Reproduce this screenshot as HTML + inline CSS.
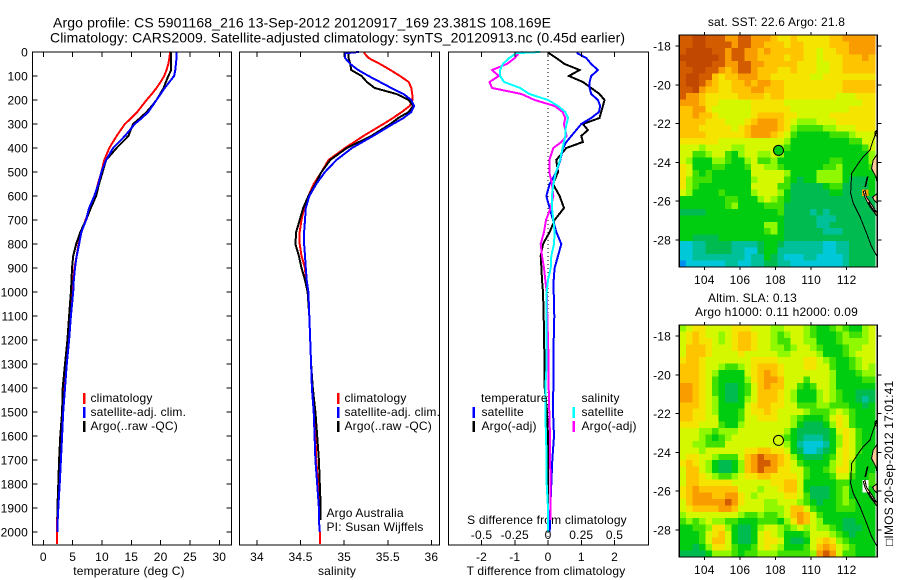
<!DOCTYPE html>
<html lang="en">
<head>
<meta charset="utf-8">
<title>Argo profile</title>
<style>
html,body{margin:0;padding:0;background:#fff;width:900px;height:580px;overflow:hidden}
svg{display:block}
text{font-family:"Liberation Sans",sans-serif;font-size:12px;fill:#000;letter-spacing:.18px}
.title{font-size:14px;letter-spacing:0}
</style>
</head>
<body>
<svg id="chart" xmlns="http://www.w3.org/2000/svg" width="900" height="580" viewBox="0 0 900 580">
<rect x="0" y="0" width="900" height="580" fill="#fff"/>
<text class="title" x="53" y="27.500" textLength="498">Argo profile: CS 5901168_216 13-Sep-2012 20120917_169 23.381S 108.169E</text>
<text class="title" x="50" y="42.500" textLength="575">Climatology: CARS2009. Satellite-adjusted climatology: synTS_20120913.nc (0.45d earlier)</text>
<text x="129" y="575" text-anchor="middle">temperature (deg C)</text>
<text x="337" y="575" text-anchor="middle">salinity</text>
<text x="546" y="575" text-anchor="middle">T difference from climatology</text>
<text x="547" y="524" text-anchor="middle">S difference from climatology</text>
<text x="326.500" y="517">Argo Australia</text>
<text x="326.500" y="531">PI: Susan Wijffels</text>
<text x="776.500" y="26" text-anchor="middle">sat. SST: 22.6 Argo: 21.8</text>
<text x="752.500" y="302" text-anchor="middle">Altim. SLA: 0.13</text>
<text x="776.500" y="316" text-anchor="middle">Argo h1000: 0.11 h2000: 0.09</text>
<text transform="translate(893,546) rotate(-90)">□IMOS 20-Sep-2012 17:01:41</text>
</svg>
<script>
/* ---------- profile data ---------- */
const profileDepths = [0,5,25,50,75,100,125,150,175,200,225,250,275,300,350,400,450,500,550,600,650,700,750,800,850,900,950,1000,1100,1200,1300,1400,1500,1600,1700,1800,1900,1950,2000,2050];
const tempClim = [21.6,21.6,21.5,21.3,21,20.6,20,19.3,18.5,17.6,16.8,16,15,13.9,12.5,11.25,10.4,9.9,9.3,8.8,8,7.2,6.5,6,5.7,5.3,5.1,5,4.5,4.2,3.9,3.6,3.3,3.05,2.85,2.65,2.45,2.35,2.35,2.35];
const tempSat = [22.7,22.7,22.7,22.6,22.5,22.3,21.5,20.7,20,19.3,18.6,17.9,16.8,15.6,13.9,11.9,10.7,9.9,9.4,8.7,7.8,7.3,6.5,6.1,5.7,5.4,5.2,5.1,4.7,4.4,4,3.7,3.4,3.2,3,2.8,2.55,2.45,2.4,null];
const tempArgo = [21.8,21.8,21.8,21.8,21.8,21.3,20.9,20.5,19.9,19.3,18.5,17.6,16.5,15.3,14.5,12.5,10.7,10.1,9.5,9,8.1,7.3,6.3,5.6,5.1,4.9,4.8,4.7,4.4,4.1,3.7,3.3,3.2,2.9,2.7,2.55,2.4,2.4,null,null];
const salClim = [35.23,35.23,35.28,35.41,35.53,35.64,35.74,35.77,35.78,35.785,35.75,35.66,35.56,35.45,35.22,35.01,34.82,34.74,34.65,34.59,34.54,34.51,34.49,34.49,34.51,34.55,34.56,34.59,34.6,34.61,34.62,34.63,34.65,34.67,34.68,34.7,34.71,34.71,34.72,34.72];
const salSat = [35.17,35.01,35.01,35.07,35.16,35.28,35.41,35.54,35.68,35.77,35.8,35.77,35.68,35.56,35.33,35.09,34.91,34.78,34.68,34.6,34.56,34.55,34.54,34.54,34.55,34.56,34.57,34.59,34.6,34.61,34.62,34.63,34.65,34.66,34.67,34.69,34.71,34.71,34.72,null];
const salArgo = [35.05,35.05,35.05,35.07,35.08,35.2,35.26,35.35,35.6,35.74,35.79,35.74,35.62,35.53,35.31,35.03,34.84,34.74,34.67,34.59,34.53,34.49,34.45,34.44,34.48,34.51,34.55,34.58,34.6,34.61,34.62,34.64,34.67,34.69,34.71,34.72,34.73,34.73,null,null];

const diffDepths = [0,5,25,50,75,100,125,150,175,200,225,250,275,300,325,350,375,400,450,500,550,600,650,700,750,800,850,900,950,1000,1100,1200,1300,1400,1500,1600,1700,1800,1900,1950,2000];
const diffTSat = [.88,.88,1.15,1.3,1.5,1.3,1.25,1.25,1.3,1.5,1.57,1.53,1.3,1,.85,.7,.55,.45,.37,.25,.05,-.05,.05,.15,.25,.4,.3,.2,.17,.17,.19,.17,.17,.16,.15,.18,.13,.1,.07,.06,.05];
const diffTArgo = [.03,.03,.25,.5,.95,.63,1.05,1.3,1.55,1.7,1.65,1.6,1.55,1.05,1.2,1,1.05,.55,.25,.3,.15,.35,.48,.2,.05,-.15,-.22,-.2,-.18,-.15,-.13,-.12,-.1,-.1,-.03,0,0,0,0,0,null];
const diffSSat = [-.06,-.24,-.29,-.34,-.36,-.36,-.33,-.21,-.14,0,.075,.13,.15,.14,.13,.13,.12,.11,.09,.06,.04,.03,.03,.04,.05,.045,.025,.02,0,-.01,-.01,-.01,-.01,-.02,-.02,-.015,-.01,-.01,0,0,0];
const diffSArgo = [-.19,-.22,-.25,-.31,-.42,-.37,-.44,-.42,-.2,-.1,.05,.11,.13,.12,.13,.14,.1,.04,.01,.01,.03,.04,.02,-.015,-.03,-.055,-.045,-.03,-.02,-.01,-.005,0,.005,.005,.01,.015,.015,.02,.02,.02,null];

const depthTicks = [0,100,200,300,400,500,600,700,800,900,1000,1100,1200,1300,1400,1500,1600,1700,1800,1900,2000];
const tempTicks = [0,5,10,15,20,25,30];
const salTicks = [34,34.5,35,35.5,36];
const tDiffTicks = [-2,-1,0,1,2];
const sDiffTicks = [-0.5,-0.25,0,0.25,0.5];
const sDiffTickLabels = ['-0.5','-0.25','0','0.25','0.5'];

/* ---------- map data (colour-scale level per cell; rows north to south) ---------- */
const lonTicks = [104,106,108,110,112];
const latTicks = [-18,-20,-22,-24,-26,-28];
const argoLon = 108.169;
const argoLat = -23.381;
const sstArgoLevel = 4;
const slaArgoLevel = 6.5;
const levelColors = ['#0090f0','#00c8d8','#00c09a','#00bc50','#00cc10','#40e000','#90f800','#d4f800','#f4e400','#ffc400','#f89c00','#d45c00','#c04800'];
const sstGrid = [
[11,11,12,12,11,11,11,10,10,11,11,10,10,10,9,8,8,9,8,8,8,8,8,9,9,10,10,10,10,10],
[11,11,12,12,11,11,11,11,10,11,11,10,10,9,9,9,8,9,9,8,8,8,8,9,9,9,10,10,10,10],
[11,12,12,12,12,11,11,10,11,11,10,10,9,10,9,9,9,9,9,8,8,7,8,8,9,9,10,10,10,10],
[12,12,12,12,12,12,11,10,11,11,10,10,9,9,9,9,8,9,9,8,8,7,8,8,8,9,9,9,10,9],
[11,12,12,12,12,11,11,10,10,11,11,10,10,9,9,9,9,9,8,8,8,7,7,8,8,9,9,9,9,9],
[11,11,12,12,11,11,10,9,10,11,11,10,9,9,9,8,8,9,8,8,8,7,7,8,8,9,9,9,9,9],
[11,12,12,11,11,9,8,9,9,10,10,10,9,9,8,8,8,8,8,8,7,7,8,8,8,8,8,8,8,8],
[11,12,12,11,10,9,8,8,9,9,10,9,10,10,9,9,8,8,8,8,8,8,8,8,8,9,9,9,9,9],
[11,11,12,10,9,9,8,8,9,9,9,10,10,9,9,9,8,8,8,8,8,8,8,8,8,9,9,9,9,9],
[11,10,10,9,8,8,8,8,8,9,9,9,9,8,9,9,8,8,8,8,8,8,8,8,7,7,7,8,8,8],
[10,10,10,9,8,8,7,7,7,7,7,8,8,8,8,8,7,7,7,7,7,7,7,7,7,7,7,7,8,8],
[9,9,10,10,8,7,7,7,7,7,7,8,8,8,8,8,8,7,7,7,7,7,7,7,7,7,8,8,8,8],
[9,9,10,9,9,8,7,7,7,7,7,8,9,9,9,9,8,8,7,7,7,7,7,8,8,8,8,8,8,8],
[9,9,9,9,8,8,8,7,7,7,8,9,10,10,10,9,8,7,6,6,6,7,7,7,8,8,8,8,8,8],
[9,9,9,8,8,8,8,8,7,8,9,10,10,10,10,9,8,6,5,5,5,5,6,6,7,7,7,8,8,8],
[9,9,9,9,8,8,8,8,8,8,9,10,10,10,9,8,7,5,4,4,4,4,4,5,5,5,6,7,7,7],
[8,8,8,8,8,8,7,7,7,7,7,7,7,7,7,7,6,4,4,4,4,4,4,4,4,4,5,5,7,7],
[7,7,7,6,7,7,7,7,6,6,7,7,7,7,7,6,5,4,4,4,4,4,4,4,4,4,4,4,5,7],
[7,7,5,5,6,7,7,5,4,6,7,7,6,6,7,6,4,4,4,4,4,4,4,4,4,4,4,4,4,6],
[7,6,4,4,4,6,6,5,4,4,6,7,5,5,6,4,4,4,4,4,4,4,4,5,5,4,4,4,4,6],
[8,7,4,4,4,5,5,4,4,4,5,7,7,6,6,5,4,4,4,4,4,4,5,5,6,4,4,4,4,5],
[8,7,5,4,5,4,4,4,4,4,4,7,7,7,7,7,6,4,4,4,4,6,6,6,6,4,4,4,4,4],
[8,6,5,5,5,4,4,4,4,4,4,6,7,7,7,7,5,4,3,4,4,6,6,6,6,4,3,3,3,4],
[8,6,5,4,4,4,4,4,4,4,4,7,7,7,7,5,5,3,3,3,3,3,4,5,5,3,3,3,3,4],
[7,6,4,4,4,4,5,4,4,4,4,6,7,7,7,6,4,3,3,3,3,3,3,4,4,3,3,3,10,4],
[4,4,4,4,4,4,4,5,5,4,4,4,6,7,6,5,4,3,3,3,3,3,3,3,3,3,3,3,3,3],
[4,4,4,4,4,4,4,5,6,4,4,4,4,5,5,5,3,3,3,3,3,3,3,3,3,3,3,3,3,3],
[3,3,3,3,4,4,4,4,4,4,4,4,4,4,4,5,3,3,3,3,2,3,2,3,3,3,3,3,3,3],
[4,4,4,4,4,4,4,4,4,4,4,4,4,4,4,4,3,3,3,3,3,2,2,2,3,3,3,3,3,3],
[4,4,4,4,4,4,4,4,4,4,4,4,4,6,6,4,3,3,3,3,3,2,2,3,3,3,3,3,3,3],
[4,4,4,4,4,4,4,4,4,4,4,4,4,5,6,4,3,3,3,3,3,3,2,2,2,3,3,3,3,3],
[4,4,3,3,3,3,4,4,4,4,4,4,4,4,4,4,3,3,3,3,3,3,3,3,3,3,3,3,3,3],
[1,1,2,2,3,3,3,3,2,2,2,2,3,4,4,3,2,2,2,2,2,2,1,1,2,2,3,3,3,3],
[1,1,2,2,3,3,3,3,2,2,1,1,3,4,4,2,2,2,2,2,2,2,1,1,2,2,3,3,3,3],
[1,1,2,2,2,2,2,2,2,2,1,2,2,4,3,2,1,1,1,2,2,1,1,1,1,2,3,3,3,3],
[0,1,1,1,1,1,1,2,2,1,1,2,2,3,3,2,2,1,1,1,1,1,1,1,1,2,3,3,3,3]
];
const slaGrid = [
[6,7,8,8,7,7,7,7,8,8,8,7,7,7,6,6,7,7,7,6,5,4,4,5,6,5,4,4,6,7],
[7,8,9,8,7,7,6,7,8,9,9,8,7,7,6,5,6,7,7,6,5,4,4,4,5,6,5,5,6,7],
[7,8,9,8,8,7,6,7,8,9,9,8,7,7,6,5,5,7,7,6,6,4,4,4,5,6,6,6,6,7],
[7,9,9,9,8,7,7,7,8,9,9,8,7,7,6,6,5,6,7,7,6,5,4,4,4,5,6,6,7,7],
[7,9,9,9,8,7,7,7,7,8,7,7,7,7,7,6,6,7,7,7,7,6,4,4,4,5,6,7,7,7],
[8,9,9,8,7,7,7,7,7,7,7,8,8,8,8,7,7,7,7,8,8,7,6,5,4,4,5,6,7,7],
[9,9,9,8,7,7,6,5,5,6,7,8,9,9,9,8,7,7,7,8,8,7,7,5,4,4,5,6,7,6],
[9,9,9,8,7,6,4,4,4,4,7,8,9,10,9,8,7,7,7,7,7,7,7,6,4,4,4,5,6,6],
[9,9,9,8,7,5,4,4,4,4,6,8,9,10,10,9,7,7,7,5,7,7,7,6,4,4,4,4,5,5],
[10,10,9,8,7,5,4,3,3,4,5,7,9,10,9,9,7,7,5,4,5,7,7,6,4,4,4,4,4,4],
[10,10,9,8,7,5,4,3,3,4,5,7,9,9,9,8,7,6,4,4,4,6,7,6,5,4,4,3,3,3],
[10,10,9,8,7,6,4,3,3,4,6,7,9,9,9,8,7,6,4,4,4,6,7,6,5,4,4,3,2,3],
[9,9,9,8,7,6,4,4,4,4,7,8,9,9,8,8,7,7,5,5,5,6,6,5,5,5,4,4,3,4],
[9,9,8,8,7,6,4,4,4,5,7,8,8,9,8,7,7,7,7,6,5,5,5,6,7,6,5,4,4,4],
[9,9,8,8,7,7,4,4,4,5,7,7,8,8,8,7,7,6,5,4,4,4,5,7,8,7,5,4,4,4],
[8,8,8,7,7,7,5,4,4,6,7,7,7,7,7,7,7,6,4,3,3,3,4,6,8,7,5,4,4,4],
[7,7,7,6,6,5,6,6,6,7,7,7,7,7,7,7,6,4,3,3,3,3,3,4,7,8,7,5,4,4],
[7,7,7,6,5,4,5,6,7,7,7,7,7,7,7,6,5,4,3,2,2,2,3,4,6,8,7,5,4,4],
[7,7,6,6,5,5,5,7,7,7,7,7,7,7,7,7,6,4,2,1,1,1,2,4,6,8,7,5,4,4],
[7,7,7,6,7,7,7,7,7,7,8,8,9,9,8,8,7,4,3,1,1,2,3,4,7,8,7,5,4,4],
[7,8,8,7,7,6,5,5,5,7,9,10,11,10,10,9,8,6,4,3,3,3,4,5,7,8,7,4,4,4],
[8,9,8,7,6,4,3,3,4,6,9,10,11,11,10,9,8,7,5,4,4,4,4,6,7,8,6,4,4,4],
[7,9,9,7,6,4,3,3,4,6,9,10,11,10,10,8,8,7,7,5,4,4,5,6,8,8,6,4,4,4],
[7,9,9,8,7,6,5,5,6,7,8,8,9,9,8,8,8,8,7,5,4,4,4,5,7,7,5,4,4,5],
[7,9,9,8,8,8,8,8,7,7,7,7,7,7,8,8,9,9,7,4,4,4,4,4,5,5,4,4,null,5],
[8,9,10,9,9,9,9,9,9,7,7,7,6,7,7,8,9,9,7,4,3,3,3,4,5,6,4,4,null,4],
[8,9,10,10,10,9,9,10,10,8,7,6,7,7,7,7,8,8,7,5,3,3,3,4,5,6,4,4,4,4],
[7,9,10,10,10,10,10,11,10,8,7,7,7,6,6,7,7,7,6,5,4,3,4,4,5,6,5,4,4,4],
[7,8,9,9,9,9,10,10,9,7,7,7,7,6,6,6,7,9,9,7,5,4,4,4,5,5,5,4,4,4],
[6,7,7,7,7,7,7,7,7,6,5,5,6,5,5,6,7,9,10,9,7,5,4,4,4,4,4,4,4,4],
[5,6,5,6,7,6,6,5,5,4,4,4,5,5,5,4,6,8,10,9,7,6,4,4,4,3,3,4,4,4],
[4,4,5,5,6,8,8,6,4,3,3,4,6,7,7,6,5,6,7,6,7,6,6,5,4,3,3,3,4,4],
[4,4,4,5,7,8,9,7,4,3,3,4,7,8,7,6,4,4,4,5,7,7,7,6,5,4,3,4,4,4],
[4,4,4,5,7,9,9,7,4,3,3,4,7,8,8,7,4,3,3,4,7,8,9,8,6,5,4,4,4,4],
[4,4,3,4,6,8,8,7,5,4,4,5,7,8,7,6,4,4,4,5,7,9,10,9,7,6,5,4,4,4],
[3,3,3,3,4,6,6,6,5,4,5,5,6,6,6,5,5,5,5,5,6,10,11,10,7,5,5,4,4,4]
];
const coastLon = [113.72,113.49,113.31,112.93,112.65,112.28,112.22,112.37,112.75,113.12,113.40,113.72];
const coastLat = [-22.33,-22.85,-23.36,-23.70,-24.05,-24.56,-25.59,-26.11,-26.80,-27.66,-28.34,-28.86];
const landShapes = [
  [[113.59,-22.42],[113.72,-22.33],[113.72,-22.67],[113.59,-22.59]],
  [[113.72,-23.57],[113.49,-23.88],[113.40,-24.31],[113.64,-24.74],[113.72,-25.08]],
  [[112.93,-25.51],[113.05,-25.85],[113.25,-26.20],[113.72,-26.80],[113.72,-26.63],[113.35,-26.10],[113.12,-25.80],[113.03,-25.45]],
  [[113.45,-25.80],[113.72,-25.60],[113.72,-26.11],[113.55,-25.96]],
  [[113.16,-24.74],[113.03,-25.25],[113.06,-25.25],[113.19,-24.74]]
];
const reefLon = [113.22,113.35,113.60];
const reefLat = [-26.05,-26.30,-26.60];

/* ---------- scales ---------- */
const svg = document.getElementById('chart');
const NS = 'http://www.w3.org/2000/svg';
const panelTop = 52, panelBottom = 545;
function yDepth(d){ return panelTop + d * 0.24; }
function xTemp(t){ return 43.3 + t * 5.867; }
function xSal(s){ return 257 + (s - 34) * 87.2; }
function xTDiff(t){ return 548 + t * 33.25; }
function xSDiff(s){ return 548 + s * 133; }

function mk(tag, attrs, parent){
  const el = document.createElementNS(NS, tag);
  for (const k in attrs) el.setAttribute(k, attrs[k]);
  (parent || svg).appendChild(el);
  return el;
}
function label(str, x, y, anchor, parent){
  const el = mk('text', {x: x, y: y, 'text-anchor': anchor || 'middle'}, parent);
  el.textContent = str;
  return el;
}
function profileLine(depths, values, xFn, color, name){
  const pts = [];
  depths.forEach(function(d, i){
    if (values[i] !== null) pts.push(xFn(values[i]).toFixed(1) + ',' + yDepth(d).toFixed(1));
  });
  const el = mk('polyline', {points: pts.join(' '), fill: 'none', stroke: color, 'stroke-width': 2, 'shape-rendering': 'crispEdges'});
  
  
}
function panelBox(x0, x1, y0, y1, name){
  const el = mk('rect', {x: x0, y: y0, width: x1 - x0, height: y1 - y0, fill: 'none', stroke: '#000', 'stroke-width': 1.4, 'shape-rendering': 'crispEdges'});
  
  
}
function tickLine(x1, y1, x2, y2, name){
  const el = mk('line', {x1: x1, y1: y1, x2: x2, y2: y2, stroke: '#000', 'stroke-width': 1, 'shape-rendering': 'crispEdges'});
  
  
}
function legendMark(x, y, color, name){
  const el = mk('rect', {x: x, y: y, width: 2.5, height: 11, fill: color});
  
  
}
function legendText(str, x, y, name){
  const el = label(str, x, y, 'start');
  
  
}

/* ---------- profile panels ---------- */
const P1 = [32.5, 231.5], P2 = [239.5, 439.5], P3 = [448.5, 648.5];

// temperature
profileLine(profileDepths, tempClim, xTemp, '#ff0000', 'temperature-climatology-line');
profileLine(profileDepths, tempArgo, xTemp, '#000000', 'temperature-argo-line');
profileLine(profileDepths, tempSat, xTemp, '#0000ff', 'temperature-satellite-line');
// salinity
profileLine(profileDepths, salClim, xSal, '#ff0000', 'salinity-climatology-line');
profileLine(profileDepths, salArgo, xSal, '#000000', 'salinity-argo-line');
profileLine(profileDepths, salSat, xSal, '#0000ff', 'salinity-satellite-line');
// differences
const zeroLine = mk('line', {x1: xTDiff(0), y1: panelTop, x2: xTDiff(0), y2: panelBottom, stroke: '#000', 'stroke-width': 1, 'stroke-dasharray': '1 3', 'shape-rendering': 'crispEdges'});


profileLine(diffDepths, diffTArgo, xTDiff, '#000000', 'temperature-difference-argo-line');
profileLine(diffDepths, diffTSat, xTDiff, '#0000ff', 'temperature-difference-satellite-line');
profileLine(diffDepths, diffSArgo, xSDiff, '#ff00ff', 'salinity-difference-argo-line');
profileLine(diffDepths, diffSSat, xSDiff, '#00ffff', 'salinity-difference-satellite-line');

panelBox(P1[0], P1[1], panelTop, panelBottom, 'temperature-panel-frame');
panelBox(P2[0], P2[1], panelTop, panelBottom, 'salinity-panel-frame');
panelBox(P3[0], P3[1], panelTop, panelBottom, 'difference-panel-frame');

depthTicks.forEach(function(d){
  const y = yDepth(d);
  if (d > 0) {
    tickLine(P1[0], y, P1[0] + 5, y, 'depth-tick-left');
    tickLine(P1[1] - 5, y, P1[1], y, 'depth-tick-right');
  }
  const t = label(String(d), 28, y + 4.5, 'end');
  
  
});
tempTicks.forEach(function(v){
  const x = xTemp(v);
  tickLine(x, panelTop, x, panelTop + 5, 'temperature-tick-top');
  tickLine(x, panelBottom - 5, x, panelBottom, 'temperature-tick-bottom');
  const t = label(String(v), x, 561);
  
  
});
salTicks.forEach(function(v){
  const x = xSal(v);
  tickLine(x, panelTop, x, panelTop + 5, 'salinity-tick-top');
  tickLine(x, panelBottom - 5, x, panelBottom, 'salinity-tick-bottom');
  const t = label(String(v), x, 561);
  
  
});
tDiffTicks.forEach(function(v){
  const x = xTDiff(v);
  tickLine(x, panelTop, x, panelTop + 5, 'difference-tick-top');
  tickLine(x, panelBottom - 5, x, panelBottom, 'difference-tick-bottom');
  const t = label(String(v), x, 561);
  
  
});
sDiffTicks.forEach(function(v, i){
  const t = label(sDiffTickLabels[i], xSDiff(v), 539);
  
  
});

/* ---------- legends ---------- */
legendMark(83, 393, '#ff0000', 'legend-mark-climatology');
legendMark(83, 407, '#0000ff', 'legend-mark-satellite');
legendMark(83, 421, '#000000', 'legend-mark-argo');
legendText('climatology', 90.500, 402, 'legend-text-climatology');
legendText('satellite-adj. clim.', 90.500, 416, 'legend-text-satellite');
legendText('Argo(..raw -QC)', 90.500, 430, 'legend-text-argo');
legendMark(337, 393, '#ff0000', 'salinity-legend-mark-climatology');
legendMark(337, 407, '#0000ff', 'salinity-legend-mark-satellite');
legendMark(337, 421, '#000000', 'salinity-legend-mark-argo');
legendText('climatology', 344.500, 402, 'salinity-legend-text-climatology');
legendText('satellite-adj. clim.', 344.500, 416, 'salinity-legend-text-satellite');
legendText('Argo(..raw -QC)', 344.500, 430, 'salinity-legend-text-argo');
legendText('temperature', 481, 402, 'difference-legend-temperature-header');
legendText('satellite', 481.500, 416, 'difference-legend-text-t-satellite');
legendText('Argo(-adj)', 481.500, 430, 'difference-legend-text-t-argo');
legendText('salinity', 581.500, 402, 'difference-legend-salinity-header');
legendText('satellite', 581.500, 416, 'difference-legend-text-s-satellite');
legendText('Argo(-adj)', 581.500, 430, 'difference-legend-text-s-argo');
legendMark(472.500, 407, '#0000ff', 'difference-legend-mark-t-satellite');
legendMark(472.500, 421, '#000000', 'difference-legend-mark-t-argo');
legendMark(572.500, 407, '#00ffff', 'difference-legend-mark-s-satellite');
legendMark(572.500, 421, '#ff00ff', 'difference-legend-mark-s-argo');

/* ---------- maps ---------- */
const mapX0 = 679.3, mapX1 = 877.3, mapCellW = 6.53, mapCellH = 6.44;
function xLon(lon){ return 704.3 + (lon - 104) * 17.8; }
function yLatFor(top){ return function(lat){ return top + 11 + (-18 - lat) * 19.4; }; }
function levelColor(v){ return levelColors[Math.round(v)]; }

function drawMap(grid, top, argoLevel, prefix){
  const yLat = yLatFor(top);
  const bottom = top + 232;
  grid.forEach(function(row, r){
    row.forEach(function(v, c){
      if (v === null) return;
      const cell = mk('rect', {x: (mapX0 + c * mapCellW).toFixed(2), y: (top + r * mapCellH).toFixed(2), width: (mapCellW + 0.3).toFixed(2), height: (mapCellH + 0.3).toFixed(2), fill: levelColor(v), 'shape-rendering': 'crispEdges'});
      
      
    });
  });
  landShapes.forEach(function(shape){
    const poly = mk('polygon', {points: shape.map(function(p){ return xLon(p[0]).toFixed(1) + ',' + yLat(p[1]).toFixed(1); }).join(' '), fill: '#ffcc99', stroke: '#000', 'stroke-width': 1, 'shape-rendering': 'crispEdges'});
    
    
  });
  const reef = mk('polyline', {points: reefLon.map(function(lon, i){ return xLon(lon).toFixed(1) + ',' + yLat(reefLat[i]).toFixed(1); }).join(' '), fill: 'none', stroke: '#000', 'stroke-width': 2, 'shape-rendering': 'crispEdges'});
  
  
  const coast = mk('polyline', {points: coastLon.map(function(lon, i){ return xLon(lon).toFixed(1) + ',' + yLat(coastLat[i]).toFixed(1); }).join(' '), fill: 'none', stroke: '#000', 'stroke-width': 1, 'shape-rendering': 'crispEdges'});
  
  
  const marker = mk('circle', {cx: xLon(argoLon).toFixed(1), cy: yLat(argoLat).toFixed(1), r: 5, fill: levelColor(argoLevel), stroke: '#000', 'stroke-width': 1});
  
  
  panelBox(mapX0, mapX1, top, bottom, prefix + '-map-frame');
  lonTicks.forEach(function(lon){
    const x = xLon(lon);
    tickLine(x, top - 3, x, top, prefix + '-lon-tick-top');
    tickLine(x, bottom, x, bottom + 3, prefix + '-lon-tick-bottom');
    const t = label(String(lon), x, bottom + 17);
    
    
  });
  latTicks.forEach(function(lat){
    const y = yLat(lat);
    tickLine(mapX0 - 4, y, mapX0, y, prefix + '-lat-tick-left');
    tickLine(mapX1, y, mapX1 + 4, y, prefix + '-lat-tick-right');
    const t = label(String(lat), 671, y + 4.5, 'end');
    
    
  });
}
drawMap(sstGrid, 35, sstArgoLevel, 'sst');
drawMap(slaGrid, 325, slaArgoLevel, 'sla');
</script>
</body>
</html>
